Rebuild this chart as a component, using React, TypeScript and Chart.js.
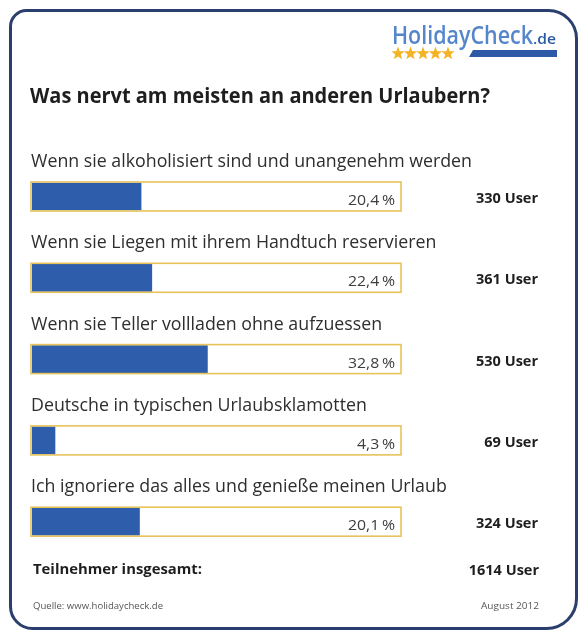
import React, { useEffect, useRef } from 'react';
import { Chart, registerables } from 'chart.js';

Chart.register(...registerables);

const categories = [
  'Wenn sie alkoholisiert sind und unangenehm werden',
  'Wenn sie Liegen mit ihrem Handtuch reservieren',
  'Wenn sie Teller vollladen ohne aufzuessen',
  'Deutsche in typischen Urlaubsklamotten',
  'Ich ignoriere das alles und genieße meinen Urlaub',
];
const percentages = [20.4, 22.4, 32.8, 4.3, 20.1];
const userCounts = [330, 361, 530, 69, 324];
const totalUsers = 1614;
const title = 'Was nervt am meisten an anderen Urlaubern?';
const totalLabel = 'Teilnehmer insgesamt:';
const source = 'Quelle: www.holidaycheck.de';
const dateLabel = 'August 2012';
const logoMain = 'HolidayCheck';
const logoTld = '.de';
const scaleMax = 69;

const FONT = '"Open Sans", "Noto Sans", sans-serif';
const NAVY = '#2b3f6e';
const BLUE = '#2e5eab';
const GOLD = '#e7c35a';

const fmtPct = (v: number) => v.toFixed(1).replace('.', ',') + '\u2009%';

function measure(ctx: CanvasRenderingContext2D, s: string, font: string) {
  ctx.save();
  ctx.font = font;
  const w = ctx.measureText(s).width;
  ctx.restore();
  return w;
}

function txt(
  ctx: CanvasRenderingContext2D,
  s: string,
  x: number,
  y: number,
  font: string,
  color: string | CanvasGradient,
  align: CanvasTextAlign,
  sx = 1
) {
  ctx.save();
  ctx.font = font;
  ctx.fillStyle = color;
  ctx.textBaseline = 'alphabetic';
  ctx.textAlign = align;
  ctx.translate(x, y);
  ctx.scale(sx, 1);
  ctx.fillText(s, 0, 0);
  ctx.restore();
}

function star(ctx: CanvasRenderingContext2D, cx: number, cy: number, ro: number, ri: number) {
  ctx.beginPath();
  for (let i = 0; i < 10; i++) {
    const r = i % 2 === 0 ? ro : ri;
    const a = -Math.PI / 2 + (i * Math.PI) / 5;
    const px = cx + r * Math.cos(a);
    const py = cy + r * Math.sin(a);
    if (i === 0) ctx.moveTo(px, py);
    else ctx.lineTo(px, py);
  }
  ctx.closePath();
  ctx.fill();
}

const decorPlugin = {
  id: 'decor',
  beforeDraw(chart: any) {
    const ctx: CanvasRenderingContext2D = chart.ctx;
    ctx.save();
    ctx.fillStyle = '#ffffff';
    ctx.fillRect(0, 0, chart.width, chart.height);
    // outer frame
    ctx.strokeStyle = NAVY;
    ctx.lineWidth = 3;
    ctx.beginPath();
    (ctx as any).roundRect(10.5, 10.5, 566, 618, [16, 28, 30, 22]);
    ctx.stroke();

    // logo
    const logoFont = `600 26px ${FONT}`;
    const g = ctx.createLinearGradient(0, 26, 0, 45);
    g.addColorStop(0, '#5586cc');
    g.addColorStop(1, '#1f4e98');
    const sxLogo = 141 / measure(ctx, logoMain, logoFont);
    txt(ctx, logoMain, 392, 44, logoFont, g, 'left', sxLogo);
    const tldFont = `600 14px ${FONT}`;
    const sxTld = 23 / measure(ctx, logoTld, tldFont);
    txt(ctx, logoTld, 533, 44, tldFont, '#2a5aa5', 'left', sxTld);
    ctx.fillStyle = '#f3b325';
    for (let i = 0; i < 5; i++) star(ctx, 398 + i * 12.5, 53.5, 7, 2.9);
    ctx.fillStyle = '#2c5aa6';
    ctx.beginPath();
    ctx.moveTo(473, 50);
    ctx.lineTo(557, 50);
    ctx.lineTo(557, 57);
    ctx.lineTo(469, 57);
    ctx.closePath();
    ctx.fill();

    // title
    const titleFont = `bold 22px ${FONT}`;
    txt(ctx, title, 30, 103, titleFont, '#1e1e1e', 'left', 460 / measure(ctx, title, titleFont));
    ctx.restore();
  },
  beforeDatasetsDraw(chart: any) {
    const ctx: CanvasRenderingContext2D = chart.ctx;
    const meta = chart.getDatasetMeta(0);
    const area = chart.chartArea;
    ctx.save();
    ctx.fillStyle = '#ffffff';
    meta.data.forEach((el: any) => {
      const p = el.getProps(['y', 'height'], true);
      ctx.fillRect(area.left - 1, p.y - p.height / 2 - 1, area.right - area.left + 1, p.height + 2);
    });
    ctx.restore();
  },
  afterDatasetsDraw(chart: any) {
    const ctx: CanvasRenderingContext2D = chart.ctx;
    const meta = chart.getDatasetMeta(0);
    const area = chart.chartArea;
    ctx.save();
    const labelFont = `18px ${FONT}`;
    const sxLabel = 441 / measure(ctx, categories[0], labelFont);
    const pctFont = `15px ${FONT}`;
    const sxPct = 47 / measure(ctx, fmtPct(percentages[0]), pctFont);
    const userFont = `bold 15px ${FONT}`;
    const sxUser = 62 / measure(ctx, userCounts[0] + ' User', userFont);
    meta.data.forEach((el: any, i: number) => {
      const p = el.getProps(['y', 'height'], true);
      ctx.strokeStyle = GOLD;
      ctx.lineWidth = 1.6;
      ctx.strokeRect(area.left - 1, p.y - p.height / 2 - 1, area.right - area.left + 1, p.height + 2);
      txt(ctx, categories[i], 31, p.y - 29.5, labelFont, '#2e2e2e', 'left', sxLabel);
      txt(ctx, fmtPct(percentages[i]), 395, p.y + 8.5, pctFont, '#3d3d3d', 'right', sxPct);
      txt(ctx, userCounts[i] + ' User', 538, p.y + 6.5, userFont, '#1e1e1e', 'right', sxUser);
    });
    // footer
    const totFont = `bold 15px ${FONT}`;
    txt(ctx, totalLabel, 33, 574, totFont, '#1e1e1e', 'left', 169 / measure(ctx, totalLabel, totFont));
    txt(ctx, totalUsers + ' User', 539, 575, userFont, '#1e1e1e', 'right', sxUser);
    const smallFont = `9px ${FONT}`;
    txt(ctx, source, 33, 609, smallFont, '#555555', 'left', 130 / measure(ctx, source, smallFont));
    txt(ctx, dateLabel, 539, 609, smallFont, '#555555', 'right', 58 / measure(ctx, dateLabel, smallFont));
    ctx.restore();
  },
};

export default function App() {
  const canvasRef = useRef<HTMLCanvasElement | null>(null);

  useEffect(() => {
    document.body.style.margin = '0';
    const canvas = canvasRef.current;
    if (!canvas) return;
    const chart = new Chart(canvas, {
      type: 'bar',
      data: {
        labels: categories,
        datasets: [
          {
            label: 'Anteil (%)',
            data: percentages,
            backgroundColor: BLUE,
            borderWidth: 0,
            barThickness: 27,
          },
        ],
      },
      options: {
        indexAxis: 'y',
        responsive: false,
        animation: false,
        devicePixelRatio: 1,
        layout: { padding: { left: 32, right: 184, top: 155.85, bottom: 75.65 } },
        scales: {
          x: { display: false, min: 0, max: scaleMax },
          y: { display: false },
        },
        plugins: {
          legend: { display: false },
          tooltip: { enabled: false },
        },
      },
      plugins: [decorPlugin],
    });
    return () => chart.destroy();
  }, []);

  return (
    <div style={{ width: 585, height: 638 }}>
      <canvas ref={canvasRef} width={585} height={638} style={{ display: 'block' }} />
    </div>
  );
}
